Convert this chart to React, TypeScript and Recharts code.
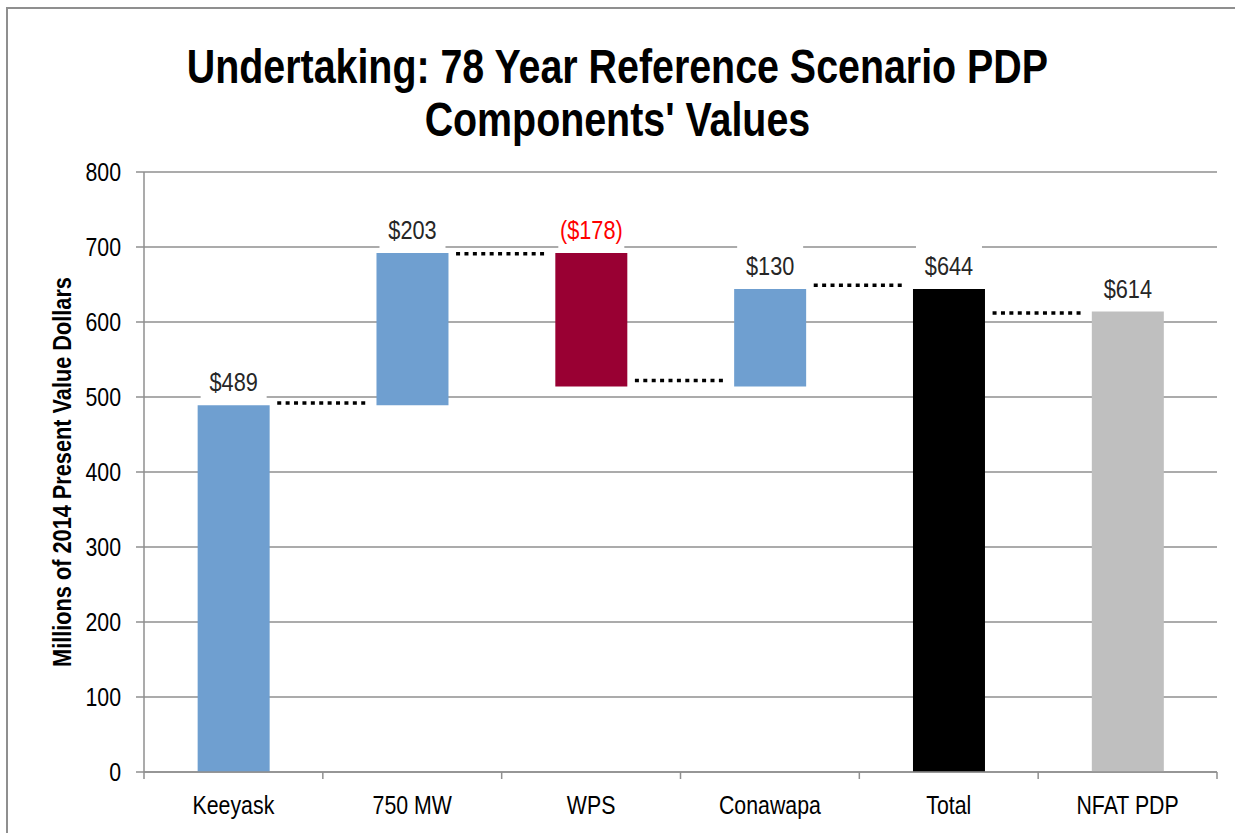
import React from 'react';
import { ComposedChart, Bar, XAxis, YAxis, CartesianGrid, ReferenceLine, LabelList, Cell } from 'recharts';

const categories = ['Keeyask', '750 MW', 'WPS', 'Conawapa', 'Total', 'NFAT PDP'];
const amounts = [489, 203, -178, 130, 644, 614];
const isTotal = [false, false, false, false, true, true];
const barColors = ['#6f9fd0', '#6f9fd0', '#990033', '#6f9fd0', '#000000', '#bfbfbf'];
const labelColors = ['#262626', '#262626', '#ff0000', '#262626', '#262626', '#262626'];
const yTicks = [0, 100, 200, 300, 400, 500, 600, 700, 800];

// dotted connectors drawn between neighbouring bars
const connectorFrom = ['Keeyask', '750 MW', 'WPS', 'Conawapa', 'Total'];
const connectorTo = ['750 MW', 'WPS', 'Conawapa', 'Total', 'NFAT PDP'];
const connectorLevels = [492, 691, 522, 649, 612];

// Arial Narrow look-alike: Liberation Sans squeezed horizontally
const FONT = "'Liberation Sans', Arial, sans-serif";
const SQ = 0.82;
const GRID = '#8f8f8f';

const fmt = (v: number) => (v < 0 ? `($${-v})` : `$${v}`);

let running = 0;
const data = categories.map((name, i) => {
  const amt = amounts[i];
  let base = 0;
  let value = amt;
  if (!isTotal[i]) {
    if (amt >= 0) {
      base = running;
      running += amt;
    } else {
      running += amt;
      base = running;
      value = -amt;
    }
  }
  return { name, base, value, label: fmt(amt) };
});

const NText = ({ x, y, anchor = 'middle', size = 26, color = '#000', bold = false, rotate = 0, children }: any) => (
  <text transform={`translate(${x}, ${y}) rotate(${rotate}) scale(${SQ}, 1)`} textAnchor={anchor}
    fontSize={size} fontFamily={FONT} fontWeight={bold ? 'bold' : 'normal'} fill={color}>
    {children}
  </text>
);

const BoxLabel = (props: any) => {
  const { x, y, width, value, index } = props;
  const bw = width - 6;
  return (
    <g>
      <rect x={x + (width - bw) / 2} y={y - 46} width={bw} height={42} fill="#ffffff" />
      <NText x={x + width / 2} y={y - 14} size={26.5} color={labelColors[index]}>{value}</NText>
    </g>
  );
};

const CategoryTick = (props: any) => {
  const { x, y, payload, index } = props;
  const half = payload && payload.offset ? payload.offset : (1217 - 144) / 12;
  return (
    <g>
      <line x1={x - half} x2={x - half} y1={y - 7} y2={y} stroke={GRID} strokeWidth={1.5} />
      {index === categories.length - 1 && (
        <line x1={x + half} x2={x + half} y1={y - 7} y2={y} stroke={GRID} strokeWidth={1.5} />
      )}
      <NText x={x} y={y + 35}>{payload.value}</NText>
    </g>
  );
};

const ValueTick = (props: any) => {
  const { x, y, payload } = props;
  return <NText x={x} y={y + 9} anchor="end">{payload.value}</NText>;
};

const Connector = (props: any) => {
  const { x1, x2, y1 } = props;
  const pad = (x2 - x1) * 0.245;
  return (
    <line x1={x1 + pad} x2={x2 - pad} y1={y1} y2={y1} stroke="#000" strokeWidth={3.3} strokeDasharray="4 4.4" />
  );
};

const YLabel = (props: any) => {
  const { viewBox } = props;
  const cy = viewBox.y + viewBox.height / 2;
  return <NText x={71} y={cy} rotate={-90} size={26.5} bold>Millions of 2014 Present Value Dollars</NText>;
};

export default function App() {
  return (
    <div style={{ position: 'absolute', left: 0, top: 0, width: 1235, height: 833, overflow: 'hidden', background: '#fff' }}>
      <div style={{ position: 'absolute', left: 6, top: 7, width: 1300, height: 900, borderLeft: `2px solid ${GRID}`, borderTop: `2px solid ${GRID}` }} />
      <div style={{ position: 'absolute', left: 0, top: 40, width: 1235, textAlign: 'center', fontFamily: FONT, fontWeight: 'bold', fontSize: 48, lineHeight: '53px', color: '#000' }}>
        <div style={{ transform: `scaleX(${SQ})`, transformOrigin: '617px 0' }}>
          <div>Undertaking: 78 Year Reference Scenario PDP</div>
          <div>Components' Values</div>
        </div>
      </div>
      <div style={{ position: 'absolute', left: 0, top: 0 }}>
        <ComposedChart width={1235} height={833} data={data} margin={{ top: 172, right: 18, bottom: 31, left: 0 }} barCategoryGap="30%">
          <CartesianGrid horizontal vertical={false} stroke={GRID} strokeWidth={1.5} />
          <XAxis dataKey="name" height={30} axisLine={{ stroke: GRID, strokeWidth: 1.5 }} tickLine={false} tickSize={7} tickMargin={0}
            tick={<CategoryTick />} interval={0} />
          <YAxis domain={[0, 800]} ticks={yTicks} width={144} axisLine={{ stroke: GRID, strokeWidth: 1.5 }}
            tickLine={{ stroke: GRID, strokeWidth: 1.5 }} tickSize={8} tickMargin={15}
            tick={<ValueTick />} label={<YLabel />} />
          <Bar dataKey="base" stackId="a" fill="transparent" isAnimationActive={false} />
          <Bar dataKey="value" stackId="a" isAnimationActive={false}>
            {data.map((d, i) => (
              <Cell key={d.name} fill={barColors[i]} />
            ))}
            <LabelList dataKey="label" content={<BoxLabel />} />
          </Bar>
          {connectorLevels.map((lv, i) => (
            <ReferenceLine key={i} segment={[{ x: connectorFrom[i], y: lv }, { x: connectorTo[i], y: lv }]}
              shape={<Connector />} />
          ))}
        </ComposedChart>
      </div>
    </div>
  );
}
